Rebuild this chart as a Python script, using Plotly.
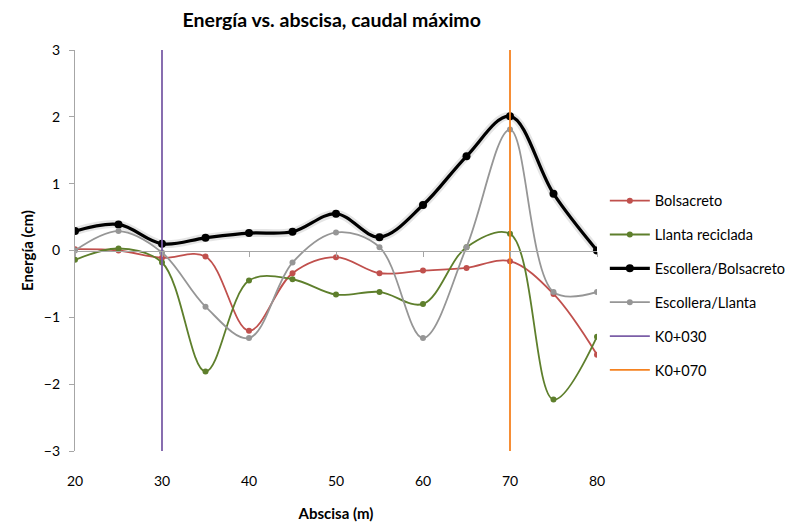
import plotly.graph_objects as go

# Abscissa stations (m)
abscisa = [20, 25, 30, 35, 40, 45, 50, 55, 60, 65, 70, 75, 80]

# Energy per configuration (cm)
bolsacreto = [0.02, 0.00, -0.11, -0.09, -1.20, -0.34, -0.10, -0.34, -0.30, -0.26, -0.16, -0.65, -1.56]
llanta_reciclada = [-0.14, 0.03, -0.18, -1.81, -0.45, -0.43, -0.66, -0.62, -0.80, 0.05, 0.25, -2.23, -1.29]
escollera_bolsacreto = [0.29, 0.39, 0.10, 0.19, 0.26, 0.28, 0.55, 0.20, 0.68, 1.41, 2.01, 0.85, 0.00]
escollera_llanta = [0.00, 0.29, -0.03, -0.84, -1.31, -0.18, 0.27, 0.05, -1.31, 0.05, 1.81, -0.62, -0.62]

# Reference sections (vertical markers)
k0_030 = [30, 30]
k0_070 = [70, 70]
y_span = [-3, 3]

y_ticks = [-3, -2, -1, 0, 1, 2, 3]
x_ticks = [20, 30, 40, 50, 60, 70, 80]

FONT = "Lato"

fig = go.Figure()

# soft halo under the thick black series
fig.add_trace(go.Scatter(
    x=abscisa, y=escollera_bolsacreto, mode="lines",
    line=dict(color="rgba(0,0,0,0.10)", width=8, shape="spline", smoothing=1),
    showlegend=False, hoverinfo="skip"))

series = [
    ("Bolsacreto", bolsacreto, "#C0504D", 1.8, 6),
    ("Llanta reciclada", llanta_reciclada, "#5E7F2C", 1.8, 6),
    ("Escollera/Bolsacreto", escollera_bolsacreto, "#000000", 3.2, 8),
    ("Escollera/Llanta", escollera_llanta, "#969696", 1.8, 6),
]
for name, vals, color, w, ms in series:
    fig.add_trace(go.Scatter(
        x=abscisa, y=vals, mode="lines+markers", name=name,
        legendgroup=name,
        line=dict(color=color, width=w, shape="spline", smoothing=1),
        marker=dict(color=color, size=ms)))

fig.add_trace(go.Scatter(x=k0_030, y=y_span, mode="lines", name="K0+030",
                         legendgroup="K0+030",
                         line=dict(color="#7B5EA7", width=1.8)))
fig.add_trace(go.Scatter(x=k0_070, y=y_span, mode="lines", name="K0+070",
                         legendgroup="K0+070",
                         line=dict(color="#F58220", width=1.8)))

# axis line with ticks drawn through y = 0
fig.add_trace(go.Scatter(x=[None], y=[None], xaxis="x2", showlegend=False,
                         hoverinfo="skip"))

fig.update_layout(
    width=809, height=526,
    margin=dict(l=75, r=212, t=50, b=75, autoexpand=False),
    paper_bgcolor="white", plot_bgcolor="white",
    font=dict(family=FONT, color="#000000", size=14),
    title=dict(text="<b>Energía vs. abscisa, caudal máximo</b>",
               x=0.41, xanchor="center", y=0.962, yanchor="middle",
               font=dict(size=19.5, family=FONT)),
    xaxis=dict(range=[20, 80], tickvals=x_ticks, showgrid=False,
               zeroline=False, showline=False, ticks="", automargin=False,
               ticklabelstandoff=20, tickfont=dict(size=14),
               title=dict(text="<b>Abscisa (m)</b>", standoff=20,
                          font=dict(size=15))),
    xaxis2=dict(range=[20, 80], tickvals=x_ticks, overlaying="x",
                anchor="free", position=0.5, side="bottom",
                showline=True, linecolor="#A6A6A6", linewidth=1.3,
                ticks="outside", ticklen=5, tickcolor="#A6A6A6",
                showticklabels=False, showgrid=False, zeroline=False),
    yaxis=dict(range=[-3, 3], tickvals=y_ticks, showgrid=False,
               zeroline=False, showline=True, linecolor="#A6A6A6",
               linewidth=1.3, ticks="outside", ticklen=5, automargin=False,
               tickcolor="#A6A6A6", tickfont=dict(size=14),
               ticklabelstandoff=6,
               title=dict(text="<b>Energía (cm)</b>", standoff=6,
                          font=dict(size=15))),
    legend=dict(x=1.015, xanchor="left", y=0.664, yanchor="top",
                tracegroupgap=12, itemwidth=40,
                font=dict(size=14.5, family=FONT),
                bgcolor="rgba(0,0,0,0)"),
    showlegend=True,
)

fig.write_html("out.html")
